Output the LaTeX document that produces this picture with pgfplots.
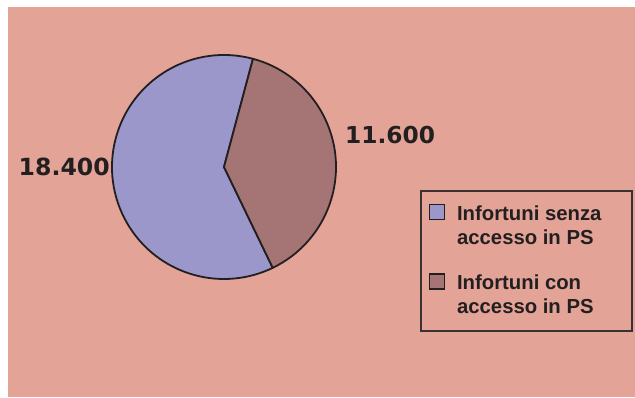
\documentclass[border=0pt]{standalone}
\usepackage{pgfplots}
\pgfplotsset{compat=1.18}
\usepackage{pgfplotstable}
\usepackage{fontspec}
\setmainfont{Liberation Sans}
\newfontfamily\numfont{DejaVu Sans}
\definecolor{bg}{HTML}{E3A397}
\definecolor{lav}{HTML}{9B97CA}
\definecolor{mau}{HTML}{A47574}
\definecolor{ink}{HTML}{231F20}
\definecolor{frame}{HTML}{3A3232}

\pgfplotstableread{
name value
senza 18400
con 11600
}\piedata

\begin{document}%
\begin{tikzpicture}
\pgfplotstablegetelem{0}{value}\of\piedata \let\va\pgfplotsretval
\pgfplotstablegetelem{1}{value}\of\piedata \let\vb\pgfplotsretval
\edef\angA{\fpeval{75+360*\va/(\va+\vb)}}
\begin{axis}[
  at={(0pt,0pt)}, anchor=south west,
  width=635pt, height=397pt, scale only axis,
  xmin=0, xmax=635, ymin=0, ymax=397, enlargelimits=false,
  hide axis, clip=false,
  sq/.style={legend image code/.code={\draw[##1] (0pt,1pt) rectangle (15pt,16pt);}},
  legend style={draw=none, fill=none, inner sep=0pt,
    at={(axis cs:429,193)}, anchor=north west,
    cells={anchor=base west}, column sep=11.7pt, row sep=51pt,
    font=\bfseries\fontsize{20.3}{23.3}\selectfont, text=ink,
    nodes={inner sep=0pt}},
]
\fill[white] (axis cs:0,0) rectangle (axis cs:635,397);
\fill[bg] (axis cs:8,0) rectangle (axis cs:635,390);
% pie sectors (axis units are 1pt in both directions)
\filldraw[fill=lav, draw=ink, line width=1.8pt, line join=round]
  (axis cs:224,230) -- ++(75:112pt) arc[start angle=75, end angle=\angA, radius=112pt] -- cycle;
\filldraw[fill=mau, draw=ink, line width=1.8pt, line join=round]
  (axis cs:224,230) -- ++(\angA:112pt) arc[start angle=\angA, end angle=435, radius=112pt] -- cycle;
% data labels
\node[anchor=base east, inner sep=0pt, text=ink, font=\numfont\bfseries\fontsize{23.6}{26}\selectfont] at (axis cs:110,221.3) {18.400};
\node[anchor=base west, inner sep=0pt, text=ink, font=\numfont\bfseries\fontsize{23.3}{26}\selectfont] at (axis cs:345,253.7) {11.600};
% legend frame
\draw[frame, line width=1.5pt] (axis cs:421,206) rectangle (axis cs:632,66);
\addlegendimage{sq, fill=lav, draw=ink, line width=1.2pt}
\addlegendentry{\begin{tabular}[t]{@{}l@{}}Infortuni senza\\accesso in PS\end{tabular}}
\addlegendimage{sq, fill=mau, draw=ink, line width=1.2pt}
\addlegendentry{\begin{tabular}[t]{@{}l@{}}Infortuni con\\accesso in PS\end{tabular}}
\end{axis}
\end{tikzpicture}%
\end{document}
